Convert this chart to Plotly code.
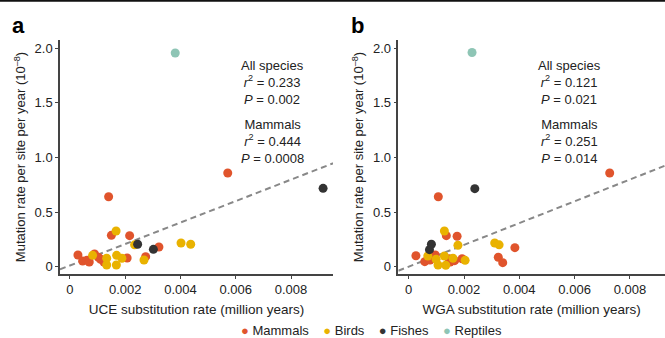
import plotly.graph_objects as go

# ---- data: mutation rate (10^-8 per site per year) vs substitution rate ----
groups = ["Mammals", "Birds", "Fishes", "Reptiles"]
colors = {"Mammals": "#E0542C", "Birds": "#E9B200", "Fishes": "#333333", "Reptiles": "#8EC5B5"}

# Panel a: UCE substitution rate
uce_mammals_x = [0.00029, 0.00046, 0.00062, 0.00070, 0.00089, 0.00103, 0.00111, 0.00123,
                 0.00140, 0.00150, 0.00207, 0.00216, 0.00274, 0.00322, 0.00571]
uce_mammals_y = [0.107, 0.052, 0.060, 0.043, 0.116, 0.086, 0.068, 0.043,
                 0.640, 0.287, 0.080, 0.284, 0.092, 0.180, 0.857]
uce_birds_x = [0.00082, 0.00133, 0.00133, 0.00167, 0.00169, 0.00168, 0.00188, 0.00234,
               0.00268, 0.00402, 0.00437]
uce_birds_y = [0.104, 0.077, 0.015, 0.327, 0.104, 0.015, 0.077, 0.200,
               0.061, 0.217, 0.205]
uce_fishes_x = [0.00245, 0.00302, 0.00916]
uce_fishes_y = [0.205, 0.159, 0.717]
uce_reptiles_x = [0.00381]
uce_reptiles_y = [1.955]

# Panel b: WGA substitution rate
wga_mammals_x = [0.00026, 0.00058, 0.00077, 0.00096, 0.00107, 0.00136, 0.00146, 0.00150,
                 0.00166, 0.00175, 0.00193, 0.00324, 0.00340, 0.00384, 0.00727]
wga_mammals_y = [0.100, 0.046, 0.061, 0.107, 0.640, 0.284, 0.073, 0.043,
                 0.055, 0.278, 0.073, 0.086, 0.037, 0.174, 0.857]
wga_birds_x = [0.00069, 0.00099, 0.00106, 0.00129, 0.00129, 0.00134, 0.00160, 0.00178,
               0.00204, 0.00311, 0.00327]
wga_birds_y = [0.098, 0.068, 0.015, 0.327, 0.098, 0.013, 0.077, 0.196,
               0.058, 0.217, 0.200]
wga_fishes_x = [0.00075, 0.00082, 0.00239]
wga_fishes_y = [0.156, 0.205, 0.714]
wga_reptiles_x = [0.00229]
wga_reptiles_y = [1.960]

# regression fits (intercept, slope)
uce_fit = (0.011, 98.2)
wga_fit = (0.0005, 99.6)

# statistics text
uce_stats = ("0.233", "0.002", "0.444", "0.0008")
wga_stats = ("0.121", "0.021", "0.251", "0.014")

x_tickvals = [0, 0.002, 0.004, 0.006, 0.008]
x_ticktext = ["0", "0.002", "0.004", "0.006", "0.008"]
y_tickvals = [0, 0.5, 1.0, 1.5, 2.0]
y_ticktext = ["0", "0.5", "1.0", "1.5", "2.0"]

uce_range = [-0.00036, 0.00952]
wga_range = [-0.000376, 0.00927]
y_range = [-0.067, 2.074]

FONT = "Liberation Sans, Arial, sans-serif"
TXT = "#222222"

fig = go.Figure()

panels = [
    ("x", "y", uce_range, uce_fit, {
        "Mammals": (uce_mammals_x, uce_mammals_y),
        "Birds": (uce_birds_x, uce_birds_y),
        "Fishes": (uce_fishes_x, uce_fishes_y),
        "Reptiles": (uce_reptiles_x, uce_reptiles_y)}),
    ("x2", "y2", wga_range, wga_fit, {
        "Mammals": (wga_mammals_x, wga_mammals_y),
        "Birds": (wga_birds_x, wga_birds_y),
        "Fishes": (wga_fishes_x, wga_fishes_y),
        "Reptiles": (wga_reptiles_x, wga_reptiles_y)}),
]

for xa, ya, xr, (b0, b1), series in panels:
    # dashed regression line across the full axis range
    fig.add_trace(go.Scatter(
        x=xr, y=[b0 + b1 * v for v in xr], xaxis=xa, yaxis=ya, mode="lines",
        line=dict(color="#888888", width=2, dash="6px,4px"),
        showlegend=False, hoverinfo="skip", cliponaxis=True))
    for g in groups:
        gx, gy = series[g]
        fig.add_trace(go.Scatter(
            x=gx, y=gy, xaxis=xa, yaxis=ya, mode="markers", name=g,
            marker=dict(color=colors[g], size=9, line=dict(width=0)),
            showlegend=False, cliponaxis=False))

axis_common = dict(
    showgrid=False, zeroline=False, showline=True, linecolor="#444444", linewidth=1.5,
    ticks="outside", ticklen=3, tickwidth=1, tickcolor="#444444",
    tickfont=dict(family=FONT, size=13, color=TXT),
)
ytitle = "Mutation rate per site per year (10<sup>–8</sup>)"

fig.update_layout(
    width=665, height=338,
    margin=dict(l=0, r=0, t=0, b=0),
    paper_bgcolor="white", plot_bgcolor="white",
    font=dict(family=FONT, size=13, color=TXT),
    showlegend=False,
    xaxis=dict(axis_common, domain=[0.0902, 0.5008], range=uce_range,
               tickvals=x_tickvals, ticktext=x_ticktext, anchor="y",
               title=dict(text="UCE substitution rate (million years)", standoff=8,
                          font=dict(family=FONT, size=13.5, color=TXT))),
    yaxis=dict(axis_common, domain=[0.1893, 0.8817], range=y_range,
               tickvals=y_tickvals, ticktext=y_ticktext, anchor="x",
               title=dict(text=ytitle, standoff=6, font=dict(family=FONT, size=13, color=TXT))),
    xaxis2=dict(axis_common, domain=[0.599, 1.0], range=wga_range,
                tickvals=x_tickvals, ticktext=x_ticktext, anchor="y2",
                title=dict(text="WGA substitution rate (million years)", standoff=8,
                           font=dict(family=FONT, size=13.5, color=TXT))),
    yaxis2=dict(axis_common, domain=[0.1893, 0.8817], range=y_range,
                tickvals=y_tickvals, ticktext=y_ticktext, anchor="x2",
                title=dict(text=ytitle, standoff=6, font=dict(family=FONT, size=13, color=TXT))),
)

# statistics annotations
for cx, st in ((0.4105, uce_stats), (0.857, wga_stats)):
    fig.add_annotation(
        xref="paper", yref="paper", x=cx, y=0.7565, xanchor="center", yanchor="middle",
        showarrow=False, align="center", font=dict(family=FONT, size=13, color=TXT),
        text=f"All species<br><i>r</i><sup>2</sup> = {st[0]}<br><i>P</i> = {st[1]}")
    fig.add_annotation(
        xref="paper", yref="paper", x=cx, y=0.5808, xanchor="center", yanchor="middle",
        showarrow=False, align="center", font=dict(family=FONT, size=13, color=TXT),
        text=f"Mammals<br><i>r</i><sup>2</sup> = {st[2]}<br><i>P</i> = {st[3]}")

# panel letters
for px, lab in ((0.028, "a"), (0.537, "b")):
    fig.add_annotation(
        xref="paper", yref="paper", x=px, y=0.925, xanchor="center", yanchor="middle",
        showarrow=False, text=f"<b>{lab}</b>",
        font=dict(family=FONT, size=22, color="#000000"))

# legend row
legend_text = "&nbsp;&nbsp;&nbsp;&nbsp;".join(
    f"<span style='color:{colors[g]}'>●</span> {g}" for g in groups)
fig.add_annotation(
    xref="paper", yref="paper", x=0.559, y=0.022, xanchor="center", yanchor="middle",
    showarrow=False, text=legend_text, font=dict(family=FONT, size=13, color=TXT))

# thin rule along the top edge
fig.add_shape(type="line", xref="paper", yref="paper", x0=0, x1=1, y0=0.998, y1=0.998,
              line=dict(color="#111111", width=2))

fig.write_html("out.html")
